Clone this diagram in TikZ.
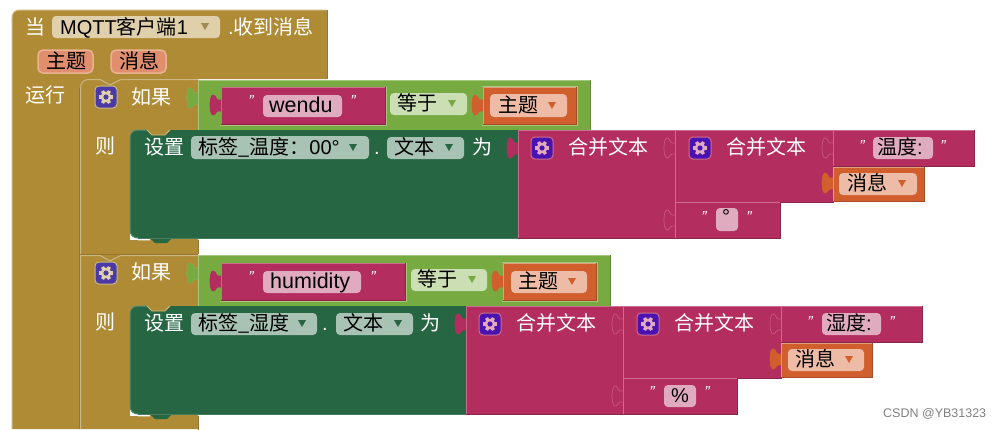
\documentclass[tikz,border=0pt]{standalone}
\usepackage{fontspec}
\setmainfont{Liberation Sans}
\newfontfamily\cjk{Noto Sans CJK SC}
\definecolor{brownb}{HTML}{B08B35}
\definecolor{brownl}{HTML}{CBB782}
\definecolor{brownd}{HTML}{96762C}
\definecolor{brownf}{HTML}{DFCFAB}
\definecolor{browntri}{HTML}{A08A50}
\definecolor{setb}{HTML}{266643}
\definecolor{setl}{HTML}{5A8A70}
\definecolor{setf}{HTML}{A8C2B4}
\definecolor{pinkb}{HTML}{B32D5E}
\definecolor{pinkl}{HTML}{CC6C8E}
\definecolor{pinkd}{HTML}{8F244B}
\definecolor{pinkf}{HTML}{E1ABBF}
\definecolor{orgb}{HTML}{D05F2D}
\definecolor{orgl}{HTML}{E0A080}
\definecolor{orgd}{HTML}{A64C24}
\definecolor{orgf}{HTML}{EDBBA6}
\definecolor{grnb}{HTML}{77AB41}
\definecolor{grnl}{HTML}{A4C77E}
\definecolor{grnd}{HTML}{5F8934}
\definecolor{grnf}{HTML}{CCDEB4}
\definecolor{parf}{HTML}{E08E6E}
\definecolor{parl}{HTML}{E9B391}
\definecolor{gearblue}{HTML}{4B3AA6}
\definecolor{gearpur}{HTML}{4A12B0}
\newcount\nodecnt
\newcommand{\lab}[4][white]{\global\advance\nodecnt by 1
  \node[lbl,text=#1,name=t\the\nodecnt] at (#2,{#3+7}) {#4};}
\newcommand{\qt}[2]{\global\advance\nodecnt by 1
  \node[qmark,name=t\the\nodecnt] at (#1,#2) {\itshape "};}
\newcommand{\fld}[5]{\draw[fill=#5,draw=none,rounded corners=4pt] (#1,#2) rectangle (#3,#4);}
\newcommand{\tri}[3]{\fill[#3] ({#1-4},{#2-3}) -- ({#1+4},{#2-3}) -- (#1,{#2+4}) -- cycle;}
\newcommand{\tabs}[4]{\path[fill=#3,draw=#4,line width=.7pt]
  (#1,{#2+13}) -- ({#1-3},{#2+13}) .. controls ({#1-5},{#2+13}) and ({#1-5},{#2+8}) .. ({#1-8},{#2+8})
  .. controls ({#1-12},{#2+8}) and ({#1-12},{#2+28}) .. ({#1-8},{#2+28})
  .. controls ({#1-5},{#2+28}) and ({#1-5},{#2+24}) .. ({#1-3},{#2+24}) -- (#1,{#2+24});}
\newcommand{\blk}[7]{\fill[#5] (#1,#2) rectangle (#3,#4);
  \draw[#6,line width=1pt] (#1,#4) -- (#1,#2) -- (#3,#2);
  \draw[#7,line width=1pt] (#3,#2) -- (#3,#4) -- (#1,#4);}
\newcommand{\pinkblk}[4]{\blk{#1}{#2}{#3}{#4}{pinkb}{pinkl}{pinkd}}
\newcommand{\orgblk}[4]{\blk{#1}{#2}{#3}{#4}{orgb}{orgl}{orgd}}
\newcommand{\gear}[5]{\draw[fill=#3,draw=#5,line width=1pt,rounded corners=4pt] ({#1-11},{#2-11}) rectangle ({#1+11},{#2+11});
  \foreach \a in {0,60,...,300} {\draw[#4,line width=3.4pt] (#1,#2) -- ++(\a:7);}
  \fill[#4] (#1,#2) circle (5.4);
  \fill[#3] (#1,#2) circle (2.6);}
\newcommand{\setblk}[3]{% x-right, top, bottom
  \fill[white] (130,{#3-8}) rectangle (150,{#3+2});
  \path[fill=setb] (138,#2) -- (#1,#2) -- (#1,#3) -- (172,#3) -- (167,{#3+5}) -- (155,{#3+5}) -- (150,#3) -- (138,#3)
    .. controls (133,#3) and (130,{#3-3}) .. (130,{#3-8}) -- (130,{#2+8}) .. controls (130,{#2+3}) and (133,#2) .. (138,#2) -- cycle;
  \draw[setl,line width=1pt] (138,#3) .. controls (133,#3) and (130,{#3-3}) .. (130,{#3-8}) -- (130,{#2+8}) .. controls (130,{#2+3}) and (133,#2) .. (138,#2) -- (147,#2);
  \path[fill=brownb,draw=brownl,line width=.8pt] (147,#2) -- (152,{#2+5}) -- (165,{#2+5}) -- (170,#2);
  \draw[setl!60!setb,line width=1pt] (138,#3) -- (#1,#3);
  \draw[brownd,line width=1pt] (198,{#3+2}) -- (198,{#3+2+14});
  \draw[brownl,line width=1pt] (138,{#3+2}) -- (150,{#3+2});}
\tikzset{
  lbl/.style={anchor=base west,inner sep=0pt,font=\fontsize{20}{24}\selectfont},
  qmark/.style={anchor=center,inner sep=0pt,text=white,font=\fontsize{16}{20}\selectfont},
  wmark/.style={anchor=west,inner sep=0pt,text=black!50,font=\fontsize{12.5}{15}\selectfont}
}
\newcommand{\wider}[1]{{\fontsize{21.5}{24}\selectfont #1}}
\begin{document}
\begin{tikzpicture}[x=1pt,y=-1pt]
\useasboundingbox (0,0) rectangle (1001,429);
\fill[white] (0,0) rectangle (1001,429);
% outer event block
\path[fill=brownb] (12,429) -- (12,18) .. controls (12,13) and (15,10) .. (20,10) -- (327,10) -- (327,79) -- (198,79) -- (198,429) -- cycle;
\draw[brownl,line width=1pt] (12,429) -- (12,18) .. controls (12,13) and (15,10) .. (20,10) -- (327,10);
\draw[brownd,line width=1pt] (327,10) -- (327,79);
\draw[brownd,line width=1pt] (79.5,88) -- (79.5,429);
\draw[brownl,line width=1pt] (80.5,429) -- (80.5,88) .. controls (80.5,83) and (84,79.5) .. (88,79.5) -- (100,79.5) -- (110,85) -- (121,79.5) -- (198,79.5);
\draw[brownd,line width=1pt] (80,254) -- (198,254);
\draw[brownl,line width=1pt] (80,255.5) -- (100,255.5) -- (110,261) -- (121,255.5) -- (198,255.5);
% header
\lab{25}{27}{\cjk 当}
\fld{52}{16}{220}{38}{brownf}
\lab[black]{60}{27}{MQTT{\cjk 客户端}1}
\tri{205}{26}{browntri}
\lab{228}{27}{.{\cjk 收到消息}}
\draw[fill=parf,draw=parl,line width=1.5pt,rounded corners=5pt] (38,50) rectangle (93,73);
\lab[black]{46}{61}{\cjk 主题}
\draw[fill=parf,draw=parl,line width=1.5pt,rounded corners=5pt] (111,50) rectangle (166,73);
\lab[black]{119}{61}{\cjk 消息}
\lab{25}{95}{\cjk 运行}
% ---------- first if ----------
\gear{106}{97}{gearblue}{brownf}{brownl}
\lab{131}{97}{\cjk 如果}
\lab{95}{146}{\cjk 则}
\tabs{198}{80}{grnb}{grnl}
\blk{198}{80}{590}{130}{grnb}{grnl}{grnd}
\tabs{198}{80}{grnb}{grnb}
\pinkblk{221}{87}{385}{124}
\draw[grnl,line width=1pt] (219.5,125.5) -- (386.5,125.5) -- (386.5,87);
\tabs{221}{87}{pinkb}{pinkb}
\qt{251}{101}
\fld{263}{95}{342}{117}{pinkf}
\lab[black]{269}{105}{\wider{wendu}}
\qt{353}{101}
\fld{390}{93}{467}{115}{grnf}
\lab[black]{397}{103}{\cjk 等于}
\tri{452}{103}{grnb}
\orgblk{483}{87}{576}{124}
\draw[grnl,line width=1pt] (481.5,86) -- (577.5,86) -- (577.5,125.5) -- (481.5,125.5);
\tabs{483}{87}{orgb}{orgb}
\fld{490}{94}{567}{117}{orgf}
\lab[black]{498}{105}{\cjk 主题}
\tri{552}{105}{orgb}
\setblk{518}{130}{238}
\lab{144}{147}{\cjk 设置}
\fld{191}{136}{369}{159}{setf}
\lab[black]{198}{147}{{\cjk 标签\_温度：}00°}
\tri{353}{147}{setb}
\lab{374}{147}{.}
\fld{387}{137}{464}{159}{setf}
\lab[black]{394}{147}{\cjk 文本}
\tri{449}{147}{setb}
\lab{472}{147}{\cjk 为}
\pinkblk{518}{130}{675}{238}
\tabs{518}{130}{pinkb}{pinkb}
\gear{542}{148}{gearpur}{pinkf}{pinkl}
\lab{568}{147}{\cjk 合并文本}
\pinkblk{675}{130}{833}{202}
\tabs{675}{130}{pinkb}{pinkl!70!pinkb}
\gear{700}{148}{gearpur}{pinkf}{pinkl}
\lab{726}{147}{\cjk 合并文本}
\pinkblk{833}{130}{974}{166}
\tabs{833}{130}{pinkb}{pinkl!70!pinkb}
\qt{862}{146}
\fld{873}{137}{933}{159}{pinkf}
\lab[black]{877}{147}{{\cjk 温度}:}
\qt{943}{146}
\orgblk{833}{167}{924}{201}
\tabs{833}{165}{orgb}{orgb}
\fld{839}{173}{917}{195}{orgf}
\lab[black]{847}{183}{\cjk 消息}
\tri{902}{183}{orgb}
\pinkblk{675}{202}{780}{238}
\tabs{675}{202}{pinkb}{pinkl!70!pinkb}
\qt{704}{217}
\fld{716}{208}{738}{231}{pinkf}
\lab[black]{722}{216}{°}
\qt{749}{217}
% ---------- second if ----------
\gear{106}{273}{gearblue}{brownf}{brownl}
\lab{131}{272}{\cjk 如果}
\lab{95}{322}{\cjk 则}
\tabs{198}{255}{grnb}{grnl}
\blk{198}{255}{610}{306}{grnb}{grnl}{grnd}
\tabs{198}{255}{grnb}{grnb}
\pinkblk{221}{263}{405}{300}
\draw[grnl,line width=1pt] (219.5,301.5) -- (406.5,301.5) -- (406.5,263);
\tabs{221}{263}{pinkb}{pinkb}
\qt{251}{277}
\fld{263}{271}{361}{293}{pinkf}
\lab[black]{270}{281}{\wider{humidity}}
\qt{373}{277}
\fld{411}{269}{487}{291}{grnf}
\lab[black]{417}{279}{\cjk 等于}
\tri{472}{279}{grnb}
\orgblk{503}{263}{596}{300}
\draw[grnl,line width=1pt] (501.5,262) -- (597.5,262) -- (597.5,301.5) -- (501.5,301.5);
\tabs{503}{263}{orgb}{orgb}
\fld{511}{271}{587}{293}{orgf}
\lab[black]{518}{281}{\cjk 主题}
\tri{572}{281}{orgb}
\setblk{466}{306}{414}
\lab{144}{323}{\cjk 设置}
\fld{191}{313}{317}{335}{setf}
\lab[black]{198}{323}{\cjk 标签\_湿度}
\tri{302}{323}{setb}
\lab{322}{323}{.}
\fld{336}{313}{413}{335}{setf}
\lab[black]{343}{323}{\cjk 文本}
\tri{398}{323}{setb}
\lab{420}{323}{\cjk 为}
\pinkblk{466}{306}{623}{414}
\tabs{466}{306}{pinkb}{pinkb}
\gear{490}{324}{gearpur}{pinkf}{pinkl}
\lab{516}{323}{\cjk 合并文本}
\pinkblk{623}{306}{781}{378}
\tabs{623}{306}{pinkb}{pinkl!70!pinkb}
\gear{648}{324}{gearpur}{pinkf}{pinkl}
\lab{674}{323}{\cjk 合并文本}
\pinkblk{781}{306}{922}{342}
\tabs{781}{306}{pinkb}{pinkl!70!pinkb}
\qt{810}{322}
\fld{822}{313}{881}{335}{pinkf}
\lab[black]{826}{323}{{\cjk 湿度}:}
\qt{892}{322}
\orgblk{781}{343}{872}{377}
\tabs{781}{341}{orgb}{orgb}
\fld{788}{349}{864}{371}{orgf}
\lab[black]{795}{359}{\cjk 消息}
\tri{849}{359}{orgb}
\pinkblk{623}{378}{737}{414}
\tabs{623}{378}{pinkb}{pinkl!70!pinkb}
\qt{652}{392}
\fld{664}{385}{696}{407}{pinkf}
\lab[black]{671}{395}{\%}
\qt{707}{392}
\node[wmark,name=wm] at (883,414) {CSDN @YB31323};
\end{tikzpicture}
\end{document}
